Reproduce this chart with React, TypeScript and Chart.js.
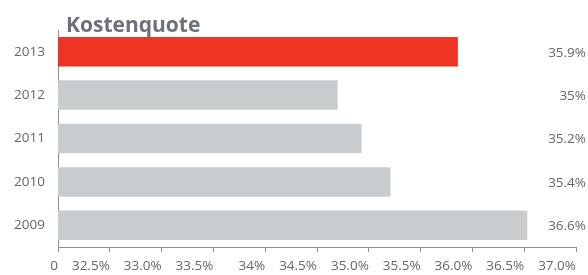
import React, { useEffect, useRef } from "react";
import { Chart, registerables } from "chart.js";

Chart.register(...registerables);

const years = ["2013", "2012", "2011", "2010", "2009"];
// bar lengths as read against the x axis (percent)
const barValues = [35.86, 34.7, 34.93, 35.21, 36.53];
// printed value labels
const valueLabels = ["35.9%", "35%", "35.2%", "35.4%", "36.6%"];
const barColors = ["#ee3424", "#c9cccf", "#c9cccf", "#c9cccf", "#c9cccf"];
const xTickValues = [32, 32.5, 33, 33.5, 34, 34.5, 35, 35.5, 36, 36.5, 37];
const xTickLabels = ["0", "32.5%", "33.0%", "33.5%", "34%", "34.5%", "35.0%", "35.5%", "36.0%", "36.5%", "37.0%"];
const title = "Kostenquote";

const FONT = "'Open Sans', 'Noto Sans', sans-serif";
const TEXT = "#62676e";
const AXIS = "#8a8d91";

const overlay = {
  id: "overlay",
  afterDraw(chart: any) {
    const ctx = chart.ctx;
    ctx.save();
    ctx.fillStyle = "#6b7079";
    ctx.font = `bold 21px ${FONT}`;
    ctx.textAlign = "left";
    ctx.textBaseline = "alphabetic";
    ctx.fillText(title, chart.chartArea.left + 8, 32);
    const meta = chart.getDatasetMeta(0);
    ctx.font = `13.5px ${FONT}`;
    ctx.fillStyle = TEXT;
    ctx.textAlign = "right";
    ctx.textBaseline = "middle";
    meta.data.forEach((el: any, i: number) => {
      ctx.fillText(valueLabels[i], chart.width - 2, el.y + 1);
    });
    ctx.restore();
  },
};

export default function App() {
  const ref = useRef<HTMLCanvasElement>(null);
  useEffect(() => {
    document.body.style.margin = "0";
    const chart = new Chart(ref.current!, {
      type: "bar",
      data: {
        labels: years,
        datasets: [
          {
            data: barValues,
            backgroundColor: barColors,
            borderWidth: 0,
            barPercentage: 0.68,
            categoryPercentage: 1,
          },
        ],
      },
      options: {
        indexAxis: "y",
        responsive: false,
        animation: false,
        layout: { padding: { top: 30, right: 12, left: 0, bottom: 0 } },
        plugins: { legend: { display: false }, tooltip: { enabled: false }, title: { display: false } },
        scales: {
          x: {
            type: "linear",
            min: 32,
            max: 37,
            afterBuildTicks: (scale: any) => {
              scale.ticks = xTickValues.map((v) => ({ value: v }));
            },
            afterFit: (scale: any) => {
              scale.height = 28;
            },
            grid: {
              display: true,
              drawOnChartArea: false,
              drawTicks: true,
              tickLength: 5,
              color: AXIS,
            },
            border: { display: true, color: AXIS, width: 1 },
            ticks: {
              align: "end",
              padding: 6,
              maxRotation: 0,
              autoSkip: false,
              color: TEXT,
              font: { family: FONT, size: 13.5 },
              callback: (_v: any, i: number) => xTickLabels[i],
            },
          },
          y: {
            type: "category",
            afterFit: (scale: any) => {
              scale.width = 58;
            },
            grid: { display: true, drawOnChartArea: false, drawTicks: false, color: AXIS },
            border: { display: true, color: AXIS, width: 1 },
            ticks: {
              padding: 13,
              color: TEXT,
              font: { family: FONT, size: 13.5 },
            },
          },
        },
      },
      plugins: [overlay],
    } as any);
    return () => chart.destroy();
  }, []);
  return <canvas ref={ref} width={588} height={275} />;
}
